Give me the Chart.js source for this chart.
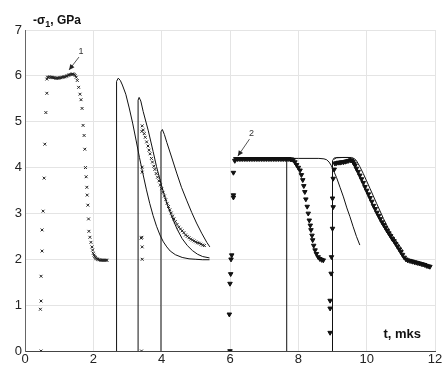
<!DOCTYPE html>
<html lang="ru">
<head>
  <meta charset="UTF-8">
  <title>-σ1, GPa</title>
  <style>
    body { margin: 0; background: #fff; }
    #chart { display: block; }
  </style>
  <script src="https://cdn.jsdelivr.net/npm/chart.js@4.4.1/dist/chart.umd.min.js"></script>
</head>
<body>
  <canvas id="chart" width="446" height="368"></canvas>

  <script>
    // Оси
    const xTicks = [0, 2, 4, 6, 8, 10, 12];
    const yTicks = [0, 1, 2, 3, 4, 5, 6, 7];

    // Эксперимент 1 (крестики): [t, -σ1]
    const exp1 = [
      [0.47, 0], [0.45, 0.91], [0.47, 1.09], [0.47, 1.63], [0.50, 2.18], [0.50, 2.64],
      [0.53, 3.05], [0.56, 3.77], [0.58, 4.51], [0.61, 5.2], [0.64, 5.62], [0.64, 5.93],
      [0.66, 5.97], [0.69, 5.97], [0.72, 5.98], [0.75, 5.97], [0.78, 5.97], [0.81, 5.96],
      [0.84, 5.96], [0.87, 5.96], [0.90, 5.95], [0.93, 5.95], [0.96, 5.95], [0.99, 5.95],
      [1.02, 5.96], [1.05, 5.96], [1.08, 5.97], [1.11, 5.97], [1.14, 5.98], [1.17, 5.98],
      [1.20, 5.99], [1.23, 6.0], [1.26, 6.01], [1.29, 6.02], [1.32, 6.03], [1.35, 6.03],
      [1.38, 6.04], [1.41, 6.04], [1.44, 6.03], [1.47, 6.01],
      [1.50, 5.97], [1.53, 5.9], [1.57, 5.75], [1.61, 5.6], [1.64, 5.48], [1.67, 5.29],
      [1.70, 4.92], [1.73, 4.7], [1.75, 4.4], [1.77, 4.0], [1.79, 3.8], [1.81, 3.57],
      [1.82, 3.4], [1.84, 3.18], [1.86, 2.88], [1.87, 2.61], [1.90, 2.48], [1.93, 2.37],
      [1.96, 2.27], [1.98, 2.2], [2.0, 2.13], [2.02, 2.09], [2.04, 2.06], [2.06, 2.04],
      [2.08, 2.02], [2.10, 2.01], [2.13, 2.0], [2.16, 1.99], [2.19, 1.99], [2.22, 1.98],
      [2.25, 1.98], [2.28, 1.98], [2.31, 1.98], [2.34, 1.98], [2.37, 1.98], [2.40, 1.98],
      [3.41, 0], [3.43, 2.0], [3.43, 2.27], [3.40, 2.46], [3.42, 2.48], [3.43, 3.9],
      [3.43, 4.01], [3.42, 4.79],
      [3.43, 4.91], [3.46, 4.82], [3.49, 4.74], [3.52, 4.66], [3.56, 4.56], [3.60, 4.47],
      [3.63, 4.38], [3.66, 4.30], [3.70, 4.20], [3.73, 4.12], [3.77, 4.03], [3.80, 3.96],
      [3.84, 3.87], [3.88, 3.79], [3.92, 3.71], [3.96, 3.62], [4.00, 3.54], [4.04, 3.46],
      [4.08, 3.38], [4.12, 3.30], [4.16, 3.22], [4.20, 3.15], [4.24, 3.08], [4.28, 3.01],
      [4.32, 2.94], [4.36, 2.88], [4.40, 2.82], [4.45, 2.76], [4.50, 2.70], [4.55, 2.66],
      [4.60, 2.62], [4.65, 2.58], [4.70, 2.53], [4.75, 2.50], [4.80, 2.47], [4.85, 2.44],
      [4.90, 2.42], [4.95, 2.40], [5.00, 2.38], [5.05, 2.36], [5.10, 2.35], [5.15, 2.33],
      [5.20, 2.31], [5.25, 2.30]
    ];

    // Эксперимент 2 (треугольники)
    const exp2 = [
      [6.0, 0], [5.98, 0.8], [6.0, 1.47], [6.02, 1.68], [6.03, 2.0], [6.05, 2.09],
      [6.1, 3.35], [6.1, 3.4], [6.1, 3.89], [6.14, 4.15],
      [6.17, 4.19], [6.22, 4.19], [6.27, 4.19], [6.32, 4.19], [6.37, 4.19], [6.42, 4.19],
      [6.47, 4.19], [6.52, 4.19], [6.57, 4.19], [6.62, 4.19], [6.67, 4.19], [6.72, 4.19],
      [6.77, 4.19], [6.82, 4.19], [6.87, 4.19], [6.92, 4.19], [6.97, 4.19], [7.02, 4.19],
      [7.07, 4.19], [7.12, 4.19], [7.17, 4.19], [7.22, 4.19], [7.27, 4.19], [7.32, 4.19],
      [7.37, 4.19], [7.42, 4.19], [7.47, 4.19], [7.52, 4.19], [7.57, 4.19], [7.62, 4.19],
      [7.67, 4.19], [7.72, 4.19], [7.77, 4.18], [7.81, 4.18],
      [7.85, 4.17], [7.90, 4.12], [7.95, 4.06], [8.0, 4.0], [8.05, 3.94], [8.09, 3.84],
      [8.13, 3.73], [8.16, 3.6], [8.19, 3.47], [8.22, 3.31], [8.26, 3.15], [8.29, 3.0],
      [8.32, 2.85], [8.35, 2.74], [8.37, 2.64], [8.40, 2.52], [8.42, 2.42], [8.45, 2.3],
      [8.49, 2.2], [8.53, 2.12], [8.58, 2.05], [8.63, 2.01], [8.68, 1.99], [8.73, 1.98],
      [8.93, 0.4], [8.93, 0.93], [8.93, 1.1], [8.96, 1.69], [8.97, 2.05], [9.0, 2.67],
      [9.02, 3.14], [9.0, 3.33], [9.02, 3.76], [9.05, 3.96],
      [9.07, 4.09], [9.12, 4.1], [9.17, 4.11], [9.22, 4.11], [9.27, 4.12], [9.32, 4.12],
      [9.37, 4.13], [9.42, 4.14], [9.47, 4.15], [9.52, 4.16], [9.56, 4.16], [9.60, 4.13],
      [9.63, 4.09], [9.66, 4.05],
      [9.70, 3.98], [9.75, 3.91], [9.80, 3.83], [9.85, 3.75], [9.90, 3.67], [9.95, 3.58],
      [10.0, 3.5], [10.05, 3.42], [10.1, 3.34], [10.15, 3.26], [10.2, 3.17], [10.25, 3.1],
      [10.3, 3.02], [10.35, 2.95], [10.4, 2.88], [10.45, 2.81], [10.5, 2.75], [10.55, 2.69],
      [10.6, 2.63], [10.65, 2.57], [10.7, 2.51], [10.75, 2.45], [10.8, 2.4], [10.85, 2.34],
      [10.9, 2.28], [10.95, 2.22], [11.0, 2.16], [11.05, 2.1], [11.1, 2.04], [11.15, 2.0],
      [11.2, 1.98], [11.25, 1.97], [11.3, 1.96], [11.35, 1.95], [11.4, 1.94], [11.45, 1.93],
      [11.5, 1.92], [11.55, 1.91], [11.6, 1.9], [11.65, 1.89], [11.7, 1.88], [11.75, 1.86],
      [11.8, 1.85], [11.85, 1.84]
    ];

    // Расчёт (сплошные линии)
    const calcA = [
      [2.68, 0], [2.68, 5.88], [2.73, 5.95], [2.79, 5.9], [2.85, 5.8], [2.95, 5.6],
      [3.05, 5.3], [3.15, 4.97], [3.25, 4.6], [3.35, 4.22], [3.45, 3.87], [3.55, 3.53],
      [3.65, 3.22], [3.75, 2.95], [3.85, 2.72], [3.95, 2.53], [4.05, 2.38], [4.15, 2.27],
      [4.25, 2.18], [4.4, 2.1], [4.6, 2.04], [4.8, 2.01], [5.0, 2.0], [5.2, 1.99], [5.4, 1.99]
    ];
    const calcB = [
      [3.31, 0], [3.31, 5.47], [3.34, 5.53], [3.39, 5.45], [3.46, 5.22], [3.61, 4.8],
      [3.75, 4.35], [3.85, 4.02], [4.0, 3.6], [4.15, 3.22], [4.3, 2.92], [4.45, 2.66],
      [4.6, 2.45], [4.75, 2.3], [4.9, 2.19], [5.05, 2.11], [5.2, 2.06], [5.4, 2.03]
    ];
    const calcC = [
      [3.98, 0], [3.98, 4.78], [4.02, 4.83], [4.08, 4.72], [4.15, 4.55], [4.29, 4.23],
      [4.44, 3.88], [4.58, 3.57], [4.73, 3.29], [4.88, 3.02], [5.02, 2.79], [5.17, 2.57],
      [5.32, 2.37], [5.41, 2.27]
    ];
    const calcD = [
      [6.14, 4.2], [7.0, 4.2], [8.0, 4.2], [8.6, 4.2], [8.75, 4.19], [8.83, 4.17],
      [8.9, 4.12], [8.96, 4.05], [9.05, 3.9], [9.12, 3.78], [9.22, 3.57], [9.32, 3.36],
      [9.42, 3.12], [9.51, 2.93], [9.6, 2.72], [9.7, 2.5], [9.8, 2.31]
    ];
    const calcDrop = [[7.66, 0], [7.66, 4.2]];
    const calcE = [
      [9.0, 0], [9.0, 4.15], [9.05, 4.21], [9.3, 4.22], [9.56, 4.22], [9.65, 4.19],
      [9.71, 4.14], [9.8, 4.02], [9.9, 3.87], [10.1, 3.54], [10.29, 3.22], [10.49, 2.89],
      [10.68, 2.6], [10.88, 2.38], [11.07, 2.18]
    ];
    const calcF = [
      [9.05, 4.18], [9.12, 4.22], [9.45, 4.22], [9.55, 4.19], [9.63, 4.1], [9.75, 3.92],
      [9.95, 3.58], [10.15, 3.24], [10.35, 2.92], [10.55, 2.63], [10.75, 2.4], [10.95, 2.22],
      [11.07, 2.16]
    ];

    // Подписи-стрелки (в единицах осей): [tip t, tip y, tail t, tail y, текст]
    const arrows = [
      [1.29, 6.13, 1.58, 6.41, "1"],
      [6.23, 4.25, 6.57, 4.62, "2"]
    ];

    const pts = (arr) => arr.map(([x, y]) => ({ x, y }));

    const lineSet = (arr) => ({
      data: pts(arr),
      showLine: true,
      borderColor: "#111",
      borderWidth: 1,
      pointRadius: 0,
      tension: 0,
      fill: false,
    });

    const textPlugin = {
      id: "texts",
      afterDraw(chart) {
        const { ctx, chartArea, scales } = chart;
        const xs = scales.x, ys = scales.y;
        ctx.save();
        ctx.fillStyle = "#111";
        ctx.textBaseline = "alphabetic";

        // заголовок оси Y: -σ1, GPa
        let x = chartArea.left + 8;
        const base = chartArea.top - 6;
        ctx.font = "bold 12px 'Liberation Sans', Arial, sans-serif";
        ctx.fillText("-σ", x, base);
        x += ctx.measureText("-σ").width;
        ctx.font = "bold 9px 'Liberation Sans', Arial, sans-serif";
        ctx.fillText("1", x, base + 3);
        x += ctx.measureText("1").width;
        ctx.font = "bold 12px 'Liberation Sans', Arial, sans-serif";
        ctx.fillText(", GPa", x, base);

        // подпись оси X
        ctx.font = "bold 13px 'Liberation Sans', Arial, sans-serif";
        ctx.textAlign = "right";
        ctx.fillText("t, mks", chartArea.right - 14, chartArea.bottom - 13);

        // стрелки
        ctx.textAlign = "center";
        ctx.font = "9px 'Liberation Sans', Arial, sans-serif";
        ctx.strokeStyle = "#555";
        ctx.lineWidth = 1;
        arrows.forEach(([tx, ty, sx, sy, label]) => {
          const x1 = xs.getPixelForValue(tx), y1 = ys.getPixelForValue(ty);
          const x0 = xs.getPixelForValue(sx), y0 = ys.getPixelForValue(sy);
          ctx.beginPath();
          ctx.moveTo(x0, y0);
          ctx.lineTo(x1, y1);
          ctx.stroke();
          const a = Math.atan2(y1 - y0, x1 - x0);
          ctx.beginPath();
          ctx.moveTo(x1, y1);
          ctx.lineTo(x1 - 6 * Math.cos(a - 0.45), y1 - 6 * Math.sin(a - 0.45));
          ctx.lineTo(x1 - 6 * Math.cos(a + 0.45), y1 - 6 * Math.sin(a + 0.45));
          ctx.closePath();
          ctx.fillStyle = "#222";
          ctx.fill();
          ctx.fillStyle = "#333";
          ctx.fillText(label, x0 + 2, y0 - 3);
        });
        ctx.restore();
      },
    };

    const tickFont = { family: "'Liberation Sans', Arial, sans-serif", size: 13 };

    new Chart(document.getElementById("chart"), {
      type: "scatter",
      data: {
        datasets: [
          lineSet(calcA), lineSet(calcB), lineSet(calcC),
          lineSet(calcD), lineSet(calcDrop), lineSet(calcE), lineSet(calcF),
          {
            data: pts(exp1),
            pointStyle: "crossRot",
            pointRadius: 2,
            borderColor: "#222",
            borderWidth: 1,
            showLine: false,
          },
          {
            data: pts(exp2),
            pointStyle: "triangle",
            rotation: 180,
            pointRadius: 2.6,
            backgroundColor: "#111",
            borderColor: "#111",
            borderWidth: 1,
            showLine: false,
          },
        ],
      },
      options: {
        responsive: false,
        animation: false,
        events: [],
        layout: { padding: { top: 30, right: 11, left: 0, bottom: 0 } },
        plugins: { legend: { display: false }, tooltip: { enabled: false } },
        scales: {
          x: {
            type: "linear",
            min: xTicks[0],
            max: xTicks[xTicks.length - 1],
            afterBuildTicks: (s) => { s.ticks = xTicks.map((v) => ({ value: v })); },
            afterFit: (s) => { s.height = 17; },
            ticks: { font: tickFont, color: "#222", padding: 1, maxRotation: 0 },
            grid: { color: "#e4e4e4", drawTicks: false },
            border: { color: "#444", width: 1 },
          },
          y: {
            type: "linear",
            min: yTicks[0],
            max: yTicks[yTicks.length - 1],
            afterBuildTicks: (s) => { s.ticks = yTicks.map((v) => ({ value: v })); },
            afterFit: (s) => { s.width = 25; },
            ticks: { font: tickFont, color: "#222", padding: 3 },
            grid: { color: "#e4e4e4", drawTicks: false },
            border: { color: "#666", width: 1 },
          },
        },
      },
      plugins: [textPlugin],
    });
  </script>
</body>
</html>
